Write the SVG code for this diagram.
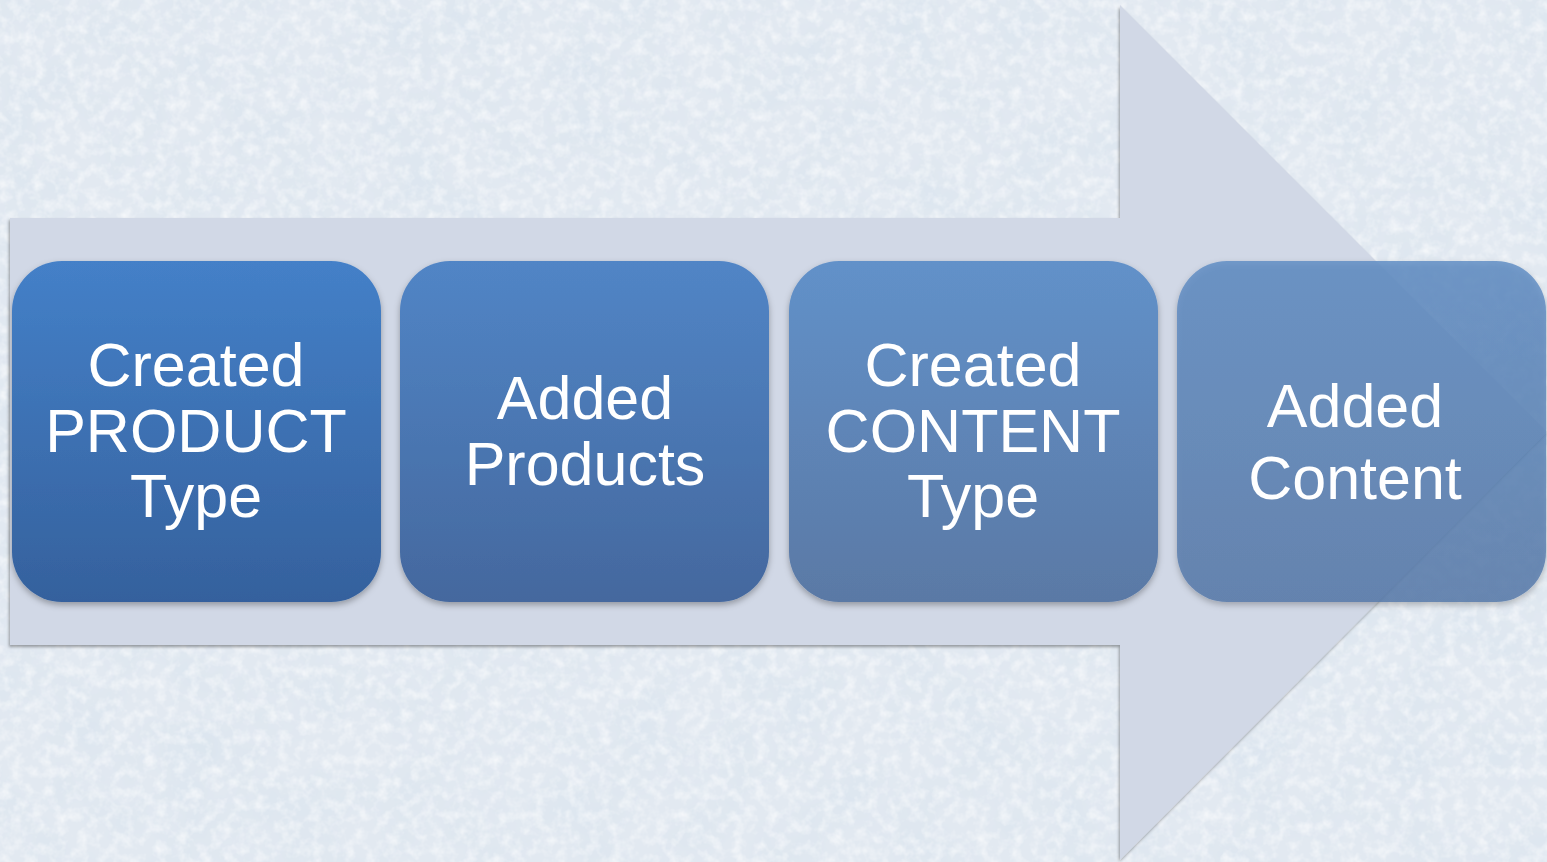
<svg xmlns="http://www.w3.org/2000/svg" width="1547" height="862" viewBox="0 0 1547 862">
  <defs>
    <style>
      .lbl { font-family: "Liberation Sans", Arial, sans-serif; font-size: 61px; fill: #ffffff; text-anchor: middle; }
      .box { filter: url(#boxShadow); }
    </style>
    <filter id="snow" x="0" y="0" width="100%" height="100%">
      <feTurbulence type="fractalNoise" baseFrequency="0.018" numOctaves="6" seed="7" result="n"/>
      <feColorMatrix in="n" type="matrix" values="0 0 0 0 0.70  0 0 0 0 0.78  0 0 0 0 0.86  1.4 0 0 0 -0.52"/>
    </filter>
    <filter id="snow2" x="0" y="0" width="100%" height="100%">
      <feTurbulence type="fractalNoise" baseFrequency="0.09" numOctaves="3" seed="2" result="n"/>
      <feColorMatrix in="n" type="matrix" values="0 0 0 0 1  0 0 0 0 1  0 0 0 0 1  0 1.2 0 0 -0.5"/>
    </filter>
    <filter id="arrowShadow" x="-5%" y="-5%" width="110%" height="110%">
      <feDropShadow dx="-1" dy="2" stdDeviation="1.5" flood-color="#000" flood-opacity="0.35"/>
    </filter>
    <filter id="boxShadow" x="-5%" y="-5%" width="110%" height="115%">
      <feDropShadow dx="0" dy="3" stdDeviation="3" flood-color="#000" flood-opacity="0.3"/>
    </filter>
    <linearGradient id="g1" x1="0" y1="0" x2="0" y2="1">
      <stop offset="0" stop-color="#4480c8"/>
      <stop offset="1" stop-color="#35619d"/>
    </linearGradient>
    <linearGradient id="g2" x1="0" y1="0" x2="0" y2="1">
      <stop offset="0" stop-color="#5185c6"/>
      <stop offset="1" stop-color="#44689e"/>
    </linearGradient>
    <linearGradient id="g3" x1="0" y1="0" x2="0" y2="1">
      <stop offset="0" stop-color="#6291c9"/>
      <stop offset="1" stop-color="#5a79a5"/>
    </linearGradient>
    <linearGradient id="g4" x1="0" y1="0" x2="0" y2="1">
      <stop offset="0" stop-color="#5b8ac2"/>
      <stop offset="1" stop-color="#5377a8"/>
    </linearGradient>
  </defs>

  <!-- background -->
  <rect x="0" y="0" width="1547" height="862" fill="#e2e9f1"/>
  <rect x="0" y="0" width="1547" height="862" filter="url(#snow)"/>
  <rect x="0" y="0" width="1547" height="862" filter="url(#snow2)"/>

  <!-- big backdrop arrow -->
  <g id="connectors">
    <polygon points="10,218 1120,218 1120,5 1547,432 1120,860 1120,645 10,645" fill="#d1d8e6" filter="url(#arrowShadow)"/>
  </g>

  <g id="node1">
    <rect class="box" x="12" y="261" width="369" height="341" rx="50" ry="50" fill="url(#g1)"/>
    <text class="lbl" x="196" y="386">Created</text>
    <text class="lbl" x="196" y="452">PRODUCT</text>
    <text class="lbl" x="196" y="517">Type</text>
  </g>

  <g id="node2">
    <rect class="box" x="400" y="261" width="369" height="341" rx="50" ry="50" fill="url(#g2)"/>
    <text class="lbl" x="585" y="419">Added</text>
    <text class="lbl" x="585" y="485">Products</text>
  </g>

  <g id="node3">
    <rect class="box" x="789" y="261" width="369" height="341" rx="50" ry="50" fill="url(#g3)"/>
    <text class="lbl" x="973" y="386">Created</text>
    <text class="lbl" x="973" y="452">CONTENT</text>
    <text class="lbl" x="973" y="517">Type</text>
  </g>

  <g id="node4">
    <rect class="box" x="1177" y="261" width="369" height="341" rx="50" ry="50" fill="url(#g4)" fill-opacity="0.8"/>
    <text class="lbl" x="1355" y="427">Added</text>
    <text class="lbl" x="1355" y="499">Content</text>
  </g>
</svg>
